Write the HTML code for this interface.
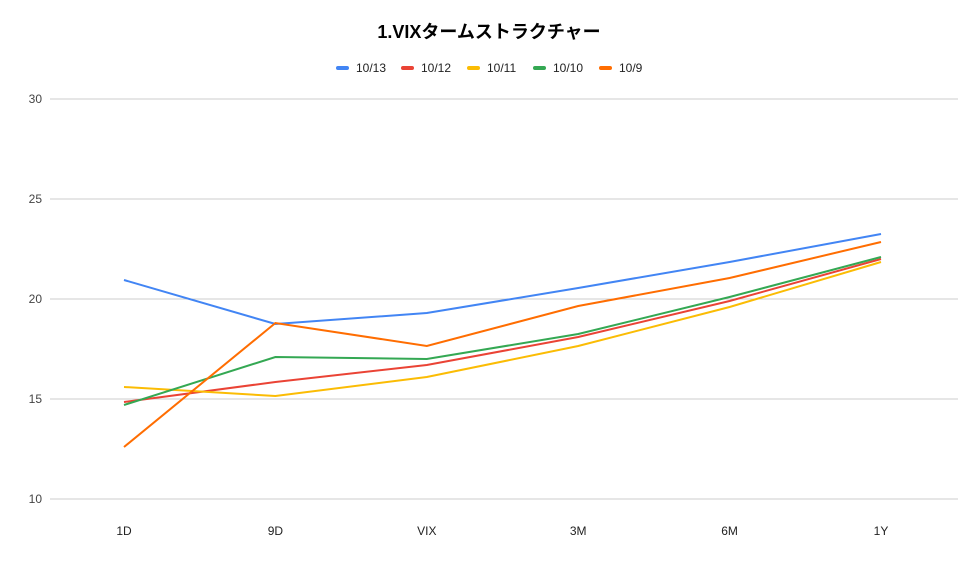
<!DOCTYPE html>
<html><head><meta charset="utf-8">
<style>
body{margin:0;background:#fff;font-family:"Liberation Sans","Noto Sans CJK JP",sans-serif;}
svg text{font-family:"Liberation Sans","Noto Sans CJK JP",sans-serif;}
</style></head>
<body>
<svg id="chart" width="978" height="559">
<rect width="978" height="559" fill="#fff"/>
<text x="489" y="38" text-anchor="middle" font-size="18" font-weight="bold" fill="#000">1.VIXタームストラクチャー</text>
<g id="grid"></g><g id="legend"></g><g id="series"></g><g id="xlabels"></g>
</svg>
<script>
const categories=["1D","9D","VIX","3M","6M","1Y"];
const yTicks=[10,15,20,25,30];
const seriesNames=["10/13","10/12","10/11","10/10","10/9"];
const seriesColors=["#4285f4","#ea4335","#fbbc04","#34a853","#ff6d01"];
const s1013=[20.95,18.75,19.3,20.55,21.85,23.25];
const s1012=[14.85,15.85,16.7,18.1,19.9,22.0];
const s1011=[15.6,15.15,16.1,17.65,19.6,21.85];
const s1010=[14.7,17.1,17.0,18.25,20.1,22.1];
const s109=[12.6,18.8,17.65,19.65,21.05,22.85];
const seriesData=[s1013,s1012,s1011,s1010,s109];
const NS="http://www.w3.org/2000/svg";
const x=i=>124+i*(881-124)/(categories.length-1);
const y=v=>499-(v-10)*20;
function mk(t,a){const e=document.createElementNS(NS,t);for(const k in a)e.setAttribute(k,a[k]);return e;}
const grid=document.getElementById('grid');
yTicks.forEach(t=>{
 const l=mk('line',{x1:50,x2:958,y1:y(t),y2:y(t),stroke:'#ccc','stroke-width':1});
 
 
 grid.appendChild(l);
 const tx=mk('text',{x:42,y:y(t)+4,'text-anchor':'end','font-size':12,fill:'#444'});
 tx.textContent=t;
 
 
 grid.appendChild(tx);
});
const xl=document.getElementById('xlabels');
categories.forEach((c,i)=>{
 const tx=mk('text',{x:x(i),y:535,'text-anchor':'middle','font-size':12,fill:'#222'});
 tx.textContent=c;
 
 
 xl.appendChild(tx);
});
const sg=document.getElementById('series');
seriesData.forEach((d,si)=>{
 const p=mk('polyline',{points:d.map((v,i)=>x(i)+','+y(v)).join(' '),fill:'none',stroke:seriesColors[si],'stroke-width':2});
 
 
 sg.appendChild(p);
});
const lg=document.getElementById('legend');
const lx=[336,401,467,533,599];
seriesNames.forEach((n,i)=>{
 const g=mk('g',{});
 
 
 g.appendChild(mk('rect',{x:lx[i],y:66,width:13,height:4,rx:2,fill:seriesColors[i]}));
 const t=mk('text',{x:lx[i]+20,y:72,'font-size':12,fill:'#222'});
 t.textContent=n;
 g.appendChild(t);
 lg.appendChild(g);
});
</script>
</body></html>
